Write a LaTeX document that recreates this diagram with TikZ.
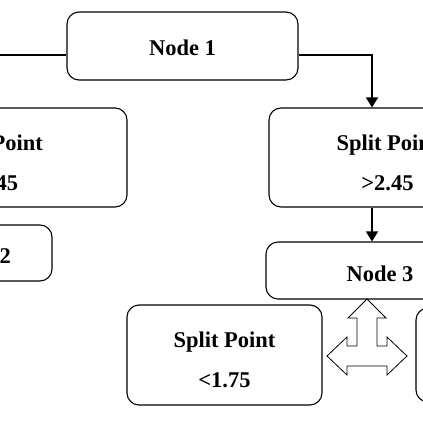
\documentclass[tikz,border=0pt]{standalone}
\usepackage{fontspec}
\setmainfont{Liberation Serif}
\usepackage{tikz}
\usetikzlibrary{arrows.meta}
\usetikzlibrary{calc}

\newcommand{\lift}[1]{\rule{0pt}{#1}}

\tikzset{
  box/.style={draw, line width=1.1pt, rounded corners=12pt, align=center,
    font=\fontsize{22.5}{40}\selectfont\bfseries},
  link/.style={line width=1.4pt, -{Triangle[width=12pt,length=10pt]}}
}

\begin{document}
\begin{tikzpicture}[x=1pt,y=-1pt]
            \useasboundingbox (0,0) rectangle (423,423);
            \clip (0,0) rectangle (423,423);

            % Noeuds
            \node[box, minimum width=231pt, minimum height=68pt] (n1) at (182.5,46) {\lift{20pt}Node 1};
            \node[box, minimum width=270pt, minimum height=99pt] (sl) at (-8,157.5) {\lift{26pt}Split Point\\<2.45};
            \node[box, minimum width=237pt, minimum height=99pt] (sr) at (387.5,157.5) {\lift{26pt}Split Point\\>2.45};
            \node[box, minimum width=149pt, minimum height=56pt] (n2) at (-22.5,253) {\lift{22pt}Node 2};
            \node[box, minimum width=228pt, minimum height=57pt] (n3) at (380,270.5) {\lift{22pt}Node 3};
            \node[box, minimum width=195pt, minimum height=100pt] (sbl) at (224.5,355) {\lift{26pt}Split Point\\<1.75};
            \node[box, minimum width=195pt, minimum height=94pt] (sbr) at (513.5,355) {\lift{26pt}Split Point\\>1.75};

            % Liaisons
            \draw[link] ([yshift=-9pt]n1.west) -| (sl.north);
            \draw[link] ([yshift=-9pt]n1.east) -| ([xshift=-15.5pt]sr.north);
            \draw[link] ([xshift=-15.5pt]sr.south) -- ([xshift=-15.5pt]sr.south |- n3.north);

            % Fleche a trois branches
            \draw[line width=0.8pt, fill=white] (367,299) -- (386,318) -- (377,318) -- (377,346)
              -- (387,346) -- (387,337) -- (407,356) -- (387,375) -- (387,366)
              -- (347,366) -- (347,375) -- (327,356) -- (347,337) -- (347,346)
              -- (357,346) -- (357,318) -- (348,318) -- cycle;
        \end{tikzpicture}
\end{document}
